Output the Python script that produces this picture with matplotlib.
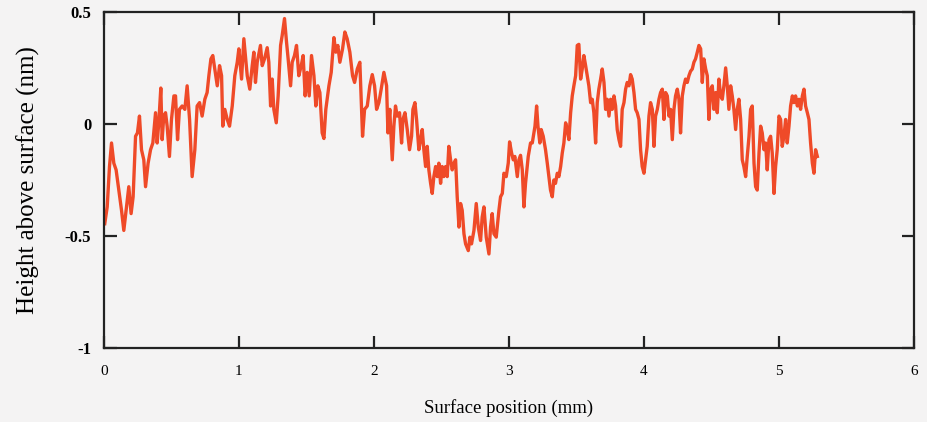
import numpy as np
import matplotlib
matplotlib.use("Agg")
import matplotlib.pyplot as plt

# profile
x_mm = [
    0.007, 0.025, 0.042, 0.057, 0.074, 0.091, 0.111, 0.131, 0.148, 0.165,
    0.185, 0.202, 0.217, 0.235, 0.249, 0.264, 0.279, 0.296, 0.309, 0.328,
    0.346, 0.363, 0.383, 0.395, 0.407, 0.422, 0.432, 0.444, 0.457, 0.469,
    0.486, 0.501, 0.519, 0.531, 0.546, 0.560, 0.580, 0.600, 0.617, 0.635,
    0.654, 0.674, 0.691, 0.709, 0.728, 0.748, 0.765, 0.778, 0.793, 0.807,
    0.822, 0.840, 0.857, 0.872, 0.881, 0.896, 0.914, 0.931, 0.951, 0.970,
    0.988, 1.000, 1.020, 1.037,
    1.062, 1.081, 1.099, 1.111, 1.123, 1.136, 1.160, 1.173, 1.190, 1.210,
    1.222, 1.235, 1.247, 1.259, 1.277, 1.291, 1.309, 1.321, 1.338, 1.353,
    1.365, 1.383, 1.395, 1.412, 1.427, 1.444, 1.462, 1.476, 1.491, 1.506,
    1.521, 1.538, 1.556, 1.570, 1.585, 1.600, 1.617, 1.630, 1.644, 1.667,
    1.684, 1.704, 1.718, 1.733, 1.748, 1.768, 1.785, 1.802, 1.822, 1.842,
    1.857, 1.877, 1.896, 1.916, 1.931, 1.951, 1.970, 1.988, 2.005, 2.020,
    2.037, 2.054, 2.074, 2.094, 2.104, 2.118,
    2.123, 2.136, 2.148, 2.160, 2.173, 2.190, 2.205, 2.215, 2.230, 2.247,
    2.264, 2.279, 2.289, 2.304, 2.316, 2.333, 2.346, 2.358, 2.370, 2.383,
    2.395, 2.407, 2.420, 2.432, 2.444, 2.457, 2.469, 2.481, 2.494, 2.506,
    2.518, 2.531, 2.543, 2.555, 2.568, 2.580, 2.593, 2.605, 2.617, 2.630,
    2.642, 2.654, 2.667, 2.679, 2.699, 2.711, 2.723, 2.741, 2.758, 2.773,
    2.790, 2.802, 2.815, 2.832, 2.852, 2.864, 2.876, 2.889, 2.906, 2.926,
    2.938, 2.951, 2.963, 2.980, 2.995, 3.005, 3.020, 3.032, 3.044, 3.062,
    3.074, 3.086, 3.099, 3.111, 3.123, 3.143, 3.160, 3.173, 3.193, 3.205,
    3.215, 3.229, 3.239, 3.254, 3.271, 3.284, 3.296, 3.308, 3.321, 3.333,
    3.345, 3.358, 3.370, 3.383, 3.395, 3.407, 3.420, 3.432, 3.444, 3.457,
    3.469, 3.481, 3.494, 3.506, 3.518, 3.531, 3.543, 3.555, 3.568, 3.580,
    3.592, 3.605, 3.617, 3.629, 3.642, 3.654, 3.666, 3.679, 3.691, 3.704,
    3.716, 3.728, 3.741, 3.753, 3.765, 3.778, 3.790, 3.802, 3.815, 3.827,
    3.839, 3.852, 3.864, 3.876, 3.889, 3.901, 3.913, 3.926, 3.938, 3.950,
    3.963, 3.975, 3.987, 4.000, 4.012, 4.024, 4.037, 4.049, 4.062, 4.074,
    4.086, 4.099, 4.111, 4.123, 4.136, 4.148, 4.160, 4.173, 4.185, 4.197,
    4.210, 4.222, 4.234, 4.247, 4.259, 4.271,
    4.284, 4.296, 4.308, 4.321, 4.333, 4.345, 4.358, 4.370, 4.382, 4.395,
    4.407, 4.420, 4.432, 4.444, 4.457, 4.469, 4.481, 4.494, 4.506, 4.518,
    4.531, 4.543, 4.555, 4.568, 4.580, 4.592, 4.605, 4.617, 4.629, 4.642,
    4.654, 4.666, 4.679, 4.691, 4.703, 4.716, 4.728, 4.740, 4.753, 4.765,
    4.778, 4.790, 4.802, 4.815, 4.827, 4.839, 4.852, 4.864, 4.876, 4.889,
    4.901, 4.913, 4.926, 4.938, 4.950, 4.963, 4.975, 4.987, 5.000, 5.012,
    5.024, 5.037, 5.049, 5.061, 5.074, 5.086, 5.099, 5.111, 5.123, 5.136,
    5.148, 5.160, 5.173, 5.185, 5.197, 5.210, 5.222, 5.234, 5.247, 5.259,
    5.271, 5.284,
]

height_nm = [
    -0.445, -0.37, -0.19, -0.085, -0.175, -0.205, -0.295, -0.385, -0.475, -0.385,
    -0.28, -0.40, -0.325, -0.055, -0.04, 0.035, -0.115, -0.16, -0.28, -0.175,
    -0.115, -0.085, 0.05, -0.085, 0.005, 0.16, -0.07, 0.035, 0.05, -0.01,
    -0.145, 0.02, 0.125, 0.125, -0.07, 0.065, 0.08, 0.065, 0.17, 0.02,
    -0.235, -0.115, 0.08, 0.095, 0.035, 0.11, 0.14, 0.215, 0.29, 0.305,
    0.245, 0.17, 0.26, 0.215, -0.01, 0.065, 0.02, -0.01, 0.08, 0.215,
    0.275, 0.335, 0.20, 0.38,
    0.215, 0.155, 0.26, 0.32, 0.185, 0.275, 0.35, 0.26, 0.29, 0.34,
    0.275, 0.08, 0.20, 0.065, 0.005, 0.125, 0.35, 0.395, 0.47, 0.365,
    0.29, 0.17, 0.275, 0.305, 0.35, 0.215, 0.26, 0.305, 0.125, 0.23,
    0.125, 0.305, 0.215, 0.08, 0.17, 0.14, -0.04, -0.065, 0.065, 0.17,
    0.23, 0.385, 0.32, 0.35, 0.275, 0.335, 0.41, 0.38, 0.32, 0.215,
    0.185, 0.245, 0.275, -0.055, 0.065, 0.08, 0.17, 0.22, 0.17, 0.065,
    0.095, 0.155, 0.23, 0.17, -0.04, 0.065,
    -0.01, -0.16, -0.01, 0.08, 0.035, 0.05, -0.085, 0.02, 0.05, -0.025,
    -0.115, -0.055, 0.065, 0.095, 0.02, -0.115, -0.07, -0.025, -0.115, -0.19,
    -0.10, -0.205, -0.265, -0.31, -0.235, -0.19, -0.235, -0.175, -0.265, -0.19,
    -0.235, -0.19, -0.235, -0.10, -0.16, -0.205, -0.175, -0.16, -0.325, -0.46,
    -0.355, -0.385, -0.49, -0.535, -0.565, -0.505, -0.535, -0.475, -0.355, -0.46,
    -0.52, -0.415, -0.37, -0.505, -0.58, -0.46, -0.40, -0.49, -0.505, -0.385,
    -0.325, -0.31, -0.22, -0.235, -0.175, -0.08, -0.13, -0.16, -0.145, -0.235,
    -0.16, -0.14, -0.205, -0.37, -0.265, -0.145, -0.085, -0.085, -0.01, 0.08,
    -0.01, -0.085, -0.025, -0.055, -0.115, -0.175, -0.235, -0.295, -0.325, -0.25,
    -0.265, -0.22, -0.235, -0.19, -0.13, -0.085, 0.005, -0.025, -0.07, 0.05,
    0.125, 0.17, 0.215, 0.35, 0.355, 0.20, 0.245, 0.305, 0.26, 0.215,
    0.17, 0.095, 0.11, 0.05, -0.085, 0.095, 0.155, 0.20, 0.245, 0.185,
    0.065, 0.11, 0.035, 0.11, 0.065, 0.125, 0.08, -0.025, -0.07, -0.10,
    0.065, 0.095, 0.155, 0.185, 0.17, 0.22, 0.20, 0.14, 0.065, 0.05,
    0.02, -0.115, -0.19, -0.22, -0.16, -0.10, 0.035, 0.095, 0.065, -0.10,
    0.035, 0.065, 0.11, 0.14, 0.155, 0.02, 0.14, 0.125, 0.035, 0.065,
    -0.07, 0.065, 0.125, 0.155, 0.11, -0.04,
    0.125, 0.17, 0.20, 0.185, 0.215, 0.235, 0.245, 0.275, 0.29, 0.32,
    0.35, 0.335, 0.185, 0.29, 0.245, 0.215, 0.02, 0.155, 0.17, 0.065,
    0.14, 0.05, 0.20, 0.125, 0.11, 0.17, 0.25, 0.17, 0.065, 0.17,
    0.125, 0.065, -0.025, 0.065, 0.11, 0.02, -0.16, -0.19, -0.235, -0.145,
    -0.055, 0.065, 0.08, -0.175, -0.28, -0.295, -0.13, -0.01, -0.04, -0.115,
    -0.085, -0.205, -0.07, -0.055, -0.13, -0.31, -0.19, -0.115, 0.035, 0.02,
    -0.10, -0.055, 0.02, -0.085, -0.01, 0.08, 0.125, 0.095, 0.125, 0.08,
    0.11, 0.065, 0.125, 0.155, 0.08, 0.05, 0.02, -0.085, -0.175, -0.22,
    -0.115, -0.145,
]

xticks = [0, 1, 2, 3, 4, 5, 6]
yticks = [-1, -0.5, 0, 0.5]
ytick_labels = ["-1", "-0.5", "0", "0.5"]

bg = "#f4f3f3"
plt.rcParams["font.family"] = ["Liberation Serif", "DejaVu Serif"]

fig = plt.figure(figsize=(9.27, 4.22), dpi=100, facecolor=bg)
ax = fig.add_axes([0.112, 0.175, 0.874, 0.797])
ax.set_facecolor(bg)

ax.plot(x_mm, height_nm, color="#ef4a28", lw=2.4, solid_joinstyle="round")

ax.set_xlim(0, 6)
ax.set_ylim(-1, 0.5)
ax.set_xticks(xticks)
ax.set_yticks(yticks)
ax.set_yticklabels(ytick_labels, fontsize=12, fontweight="bold")
ax.set_xticklabels([str(t) for t in xticks], fontsize=11)

ax.tick_params(direction="in", length=9, width=1.6, top=True, right=True,
               color="#222222")
ax.tick_params(axis="x", pad=12)
ax.tick_params(axis="y", pad=9)
for s in ax.spines.values():
    s.set_linewidth(1.6)
    s.set_color("#222222")

ax.set_xlabel("Surface position (mm)", fontsize=13.5, labelpad=15)
ax.set_ylabel("Height above surface (nm)", fontsize=18, labelpad=18)

fig.savefig("out.png", dpi=100, facecolor=bg)
